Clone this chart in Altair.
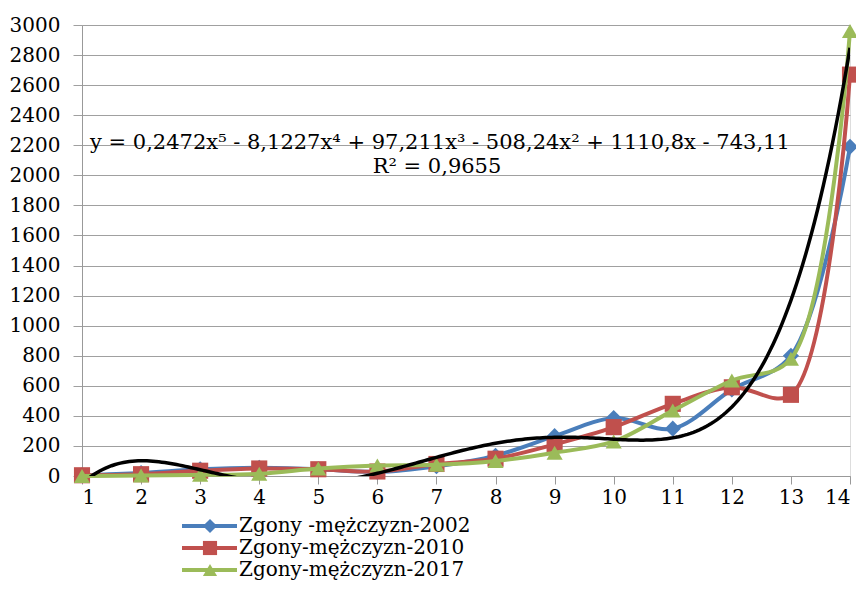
import altair as alt
import pandas as pd

# ---- data ----
ages = list(range(1, 15))
series_names = ["Zgony -mężczyzn-2002", "Zgony-mężczyzn-2010", "Zgony-mężczyzn-2017"]
deaths_2002 = [5, 20, 45, 55, 45, 27, 65, 135, 265, 385, 315, 575, 800, 2190]
deaths_2010 = [5, 12, 35, 50, 45, 30, 80, 115, 210, 325, 480, 590, 540, 2670]
deaths_2017 = [0, 3, 8, 15, 50, 70, 75, 100, 155, 230, 435, 635, 780, 2960]
colors = ["#4A7EBB", "#C0504D", "#9BBB59"]
shapes = ["diamond", "square", "triangle-up"]
y_ticks = list(range(0, 3001, 200))

# trend-line coefficients shown on the chart (5th order polynomial)
coef = [0.2472, -8.1227, 97.211, -508.24, 1110.8, -743.11]
eq_text = "y = 0,2472x⁵ - 8,1227x⁴ + 97,211x³ - 508,24x² + 1110,8x - 743,11"
r2_text = "R² = 0,9655"

FONT = "DejaVu Serif"

rows = []
for name, vals in zip(series_names, [deaths_2002, deaths_2010, deaths_2017]):
    for a, v in zip(ages, vals):
        rows.append({"series": name, "x": a, "y": v})
df = pd.DataFrame(rows)

color_scale = alt.Scale(domain=series_names, range=colors)
shape_scale = alt.Scale(domain=series_names, range=shapes)
x_scale = alt.Scale(domain=[1, 14], nice=False, zero=False)
y_scale = alt.Scale(domain=[0, 3000], nice=False)

x_enc = alt.X("x:Q", scale=x_scale, axis=alt.Axis(
    values=ages, title=None, grid=False, labelFont=FONT, labelFontSize=20,
    labelColor="#000", domainColor="#999", tickColor="#999", tickSize=8,
    labelPadding=3, format="d", labelOverlap=False))
y_enc = alt.Y("y:Q", scale=y_scale, axis=alt.Axis(
    values=y_ticks, title=None, grid=True, gridColor="#A0A0A0", labelFont=FONT,
    labelFontSize=20, labelColor="#000", domainColor="#999", tickColor="#A0A0A0",
    tickSize=9, labelPadding=13, format="d", labelOverlap=False))

layers = []
for name, col, shp in zip(series_names, colors, shapes):
    sub = alt.Chart(df).transform_filter(alt.datum.series == name)
    line = sub.mark_line(strokeWidth=4, interpolate="catmull-rom", color=col).encode(
        x=x_enc, y=y_enc)
    pts = sub.mark_point(filled=True, opacity=1, size=260, color=col, shape=shp).encode(
        x=x_enc, y=y_enc)
    layers += [line, pts]

trend = alt.Chart(alt.sequence(1, 14.01, 0.05, as_="x")).transform_calculate(
    y=f"{coef[0]}*pow(datum.x,5) + ({coef[1]})*pow(datum.x,4) + {coef[2]}*pow(datum.x,3)"
      f" + ({coef[3]})*pow(datum.x,2) + {coef[4]}*datum.x + ({coef[5]})"
).mark_line(color="black", strokeWidth=3.5, clip=True).encode(x=x_enc, y=y_enc)
layers.append(trend)

eq = alt.Chart(pd.DataFrame({"t": [eq_text]})).mark_text(
    align="left", baseline="middle", font=FONT, fontSize=21, color="#000"
).encode(x=alt.value(8), y=alt.value(118), text="t:N")
r2 = alt.Chart(pd.DataFrame({"t": [r2_text]})).mark_text(
    align="center", baseline="middle", font=FONT, fontSize=21, color="#000"
).encode(x=alt.value(355), y=alt.value(142), text="t:N")
layers += [eq, r2]

main = alt.layer(*layers)

# ---- legend (below the plot) ----
leg_df = pd.DataFrame({"series": series_names})
leg_y = alt.Y("series:N", scale=alt.Scale(type="point", domain=series_names,
                                           range=[501, 545], padding=0), axis=None)
leg_base = alt.Chart(leg_df)
leg_line = leg_base.mark_rule(strokeWidth=4).encode(
    x=alt.value(100), x2=alt.value(155), y=leg_y,
    color=alt.Color("series:N", scale=color_scale, legend=None))
leg_pt = leg_base.mark_point(filled=True, opacity=1, size=200).encode(
    x=alt.value(128), y=leg_y,
    color=alt.Color("series:N", scale=color_scale, legend=None),
    shape=alt.Shape("series:N", scale=shape_scale, legend=None))
leg_txt = leg_base.mark_text(align="left", baseline="middle", font=FONT,
                             fontSize=20, color="#000").encode(
    x=alt.value(157), y=leg_y, text="series:N")
legend = alt.layer(leg_line, leg_pt, leg_txt)

chart = alt.layer(main, legend).resolve_scale(y="independent").properties(
    width=768, height=451,
    autosize=alt.AutoSizeParams(type="none"),
    padding={"left": 74, "top": 17, "right": 6, "bottom": 106},
).configure_view(stroke=None).configure(background="white")

chart.save("out.html", embed_options={"renderer": "svg", "actions": False})
